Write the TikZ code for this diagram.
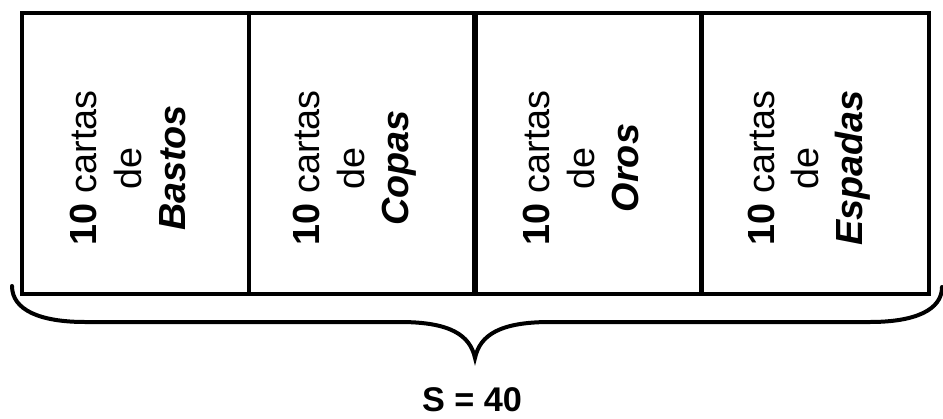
\documentclass[tikz,border=0pt]{standalone}
\usepackage{fontspec}
\setmainfont{Liberation Sans}
\tikzset{
  palo/.style={draw, line width=0.08cm, minimum width=4.54cm, minimum height=5.62cm, anchor=north west, inner sep=0pt},
  cartas/.style={rotate=90, align=center, font=\fontsize{21.5}{25.2}\selectfont, inner sep=0pt}
}
\begin{document}
\begin{tikzpicture}[x=0.02cm, y=-0.02cm]
  \useasboundingbox (0,0) rectangle (943,419);
  % las cuatro columnas
  \node[palo] (bastos) at (20,11) {};
  \node[palo] (copas) at (247,11) {};
  \node[palo] (oros) at (472,11) {};
  \node[palo] (espadas) at (700,11) {};
  \node[cartas] (tb) at (128,168) {\textbf{10} cartas\\de\\\textbf{\textit{Bastos}}};
  \node[cartas] (tc) at (355,168) {\textbf{10} cartas\\de\\\textbf{\textit{Copas}}};
  \node[cartas] (to) at (581,168) {\textbf{10} cartas\\de\\\textbf{\textit{Oros}}};
  \node[cartas] (te) at (809,168) {\textbf{10} cartas\\de\\\textbf{\textit{Espadas}}};
  % llave
  \coordinate (izq) at (12,286);
  \coordinate (pico) at (475,358);
  \coordinate (der) at (942,287);
  \draw[line width=0.08cm, line cap=round] (izq) .. controls (12,310) and (40,322) .. (85,322)
    -- (400,322) .. controls (450,322) and (470,335) .. (pico)
    .. controls (480,335) and (500,322) .. (550,322)
    -- (870,322) .. controls (915,322) and (942,310) .. (der);
  \node[font=\fontsize{19.5}{22}\selectfont\bfseries] (total) at (472,400) {S = 40};
\end{tikzpicture}
\end{document}
